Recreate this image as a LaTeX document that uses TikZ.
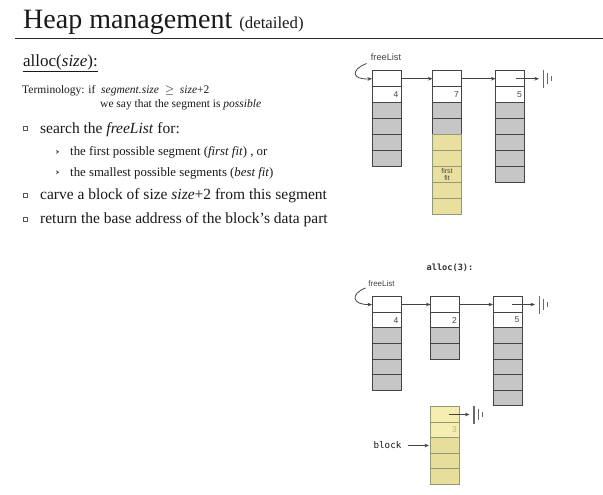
\documentclass[tikz,border=0pt]{standalone}
\usepackage{fontspec}
\setmainfont{Liberation Serif}
\setsansfont{Liberation Sans}
\setmonofont{DejaVu Sans Mono}
\usetikzlibrary{arrows.meta}
\definecolor{cellline}{HTML}{444444}
\definecolor{gcell}{HTML}{C6C6C6}
\definecolor{ycell}{HTML}{E9DF9E}
\definecolor{yline}{HTML}{8F9A76}
\definecolor{ylight}{HTML}{F6EEB0}
\definecolor{ydark}{HTML}{E8DE9C}
\definecolor{txt}{HTML}{1A1A1A}
\definecolor{rulecol}{HTML}{2A2A2A}
\tikzset{
  cell/.style={draw=cellline, line width=1pt, minimum width=29pt, minimum height=16pt, inner sep=0pt, outer sep=0pt},
  cellb/.style={cell, minimum height=15.6pt},
  ycellstyle/.style={cell, draw=yline},
  num/.style={font=\sffamily\fontsize{8.5}{9}\selectfont, text=cellline, inner sep=0pt, anchor=east},
  ptr/.style={draw=cellline, line width=0.8pt, -{Stealth[length=4.5pt,width=3.6pt]}},
  nullbar/.style={draw=cellline!80, line width=0.9pt},
  txtnode/.style={anchor=base west, inner sep=0pt, text=txt},
  mainfont/.style={font=\fontsize{15.5}{18}\selectfont},
  subfont/.style={font=\fontsize{12.8}{15}\selectfont},
  bulletsq/.style={draw=gray!70!black, line width=0.6pt, fill=white, minimum size=4pt, inner sep=0pt},
  chev/.style={fill=txt!80}
}
\begin{document}
\begin{tikzpicture}[x=1pt,y=-1pt]
\useasboundingbox[fill=white] (0,0) rectangle (603,495);

% ---------- left text ----------
\node[txtnode] (title) at (23,29) {\fontsize{28}{30}\selectfont Heap management \fontsize{16.8}{18}\selectfont(detailed)};
\draw[rulecol, line width=1.3pt] (15,38.5) -- (603,38.5);
\node[txtnode] (hdr) at (23,66.5) {\fontsize{17}{20}\selectfont\underline{alloc(\textit{size}):}};
\node[txtnode, font=\fontsize{11.5}{13}\selectfont] (term) at (22,93.3) {Terminology: if \ \textit{segment.size} \ $\geq$ \ \textit{size}+2};
\node[txtnode, font=\fontsize{11.5}{13}\selectfont] (term2) at (100,107.7) {we say that the segment is \textit{possible}};

\node[txtnode, mainfont] (b1) at (40,133) {search the \textit{freeList} for:};
\node[txtnode, subfont] (s1) at (70,155.5) {the first possible segment (\textit{first fit}) , or};
\node[txtnode, subfont] (s2) at (70,176) {the smallest possible segments (\textit{best fit})};
\node[txtnode, mainfont] (b2) at (40,199.3) {carve a block of size \textit{size}+2 from this segment};
\node[txtnode, mainfont] (b3) at (40,223.3) {return the base address of the block's data part};

\foreach \yy/\nm in {128.5/q1,194.8/q2,218.8/q3}
  \node[bulletsq] (\nm) at (25.5,\yy) {};
\foreach \yy in {151.8,172.3}
  \fill[chev] (56,\yy-2) -- (59.2,\yy) -- (56,\yy+2) -- (57,\yy) -- cycle;

% ---------- top diagram ----------
\foreach \i/\f in {1/white,2/white,3/gcell,4/gcell,5/gcell,6/gcell}
  \node[cell, fill=\f] (A\i) at (386.5,{78.7+16*(\i-1)}) {};
\foreach \i/\f in {1/white,2/white,3/gcell,4/gcell}
  \node[cell, fill=\f] (B\i) at (447,{78.7+16*(\i-1)}) {};
\foreach \i in {5,...,9}
  \node[ycellstyle, fill=ycell] (B\i) at (447,{78.7+16*(\i-1)}) {};
\foreach \i/\f in {1/white,2/white,3/gcell,4/gcell,5/gcell,6/gcell,7/gcell}
  \node[cell, fill=\f] (C\i) at (510,{78.7+16*(\i-1)}) {};

\node[num] (nA) at ([xshift=-2.5pt]A2.east) {4};
\node[num] (nB) at ([xshift=-2.5pt]B2.east) {7};
\node[num] (nC) at ([xshift=-2.5pt]C2.east) {5};
\node[font=\sffamily\fontsize{7}{8}\selectfont, text=cellline, align=center, inner sep=0pt] (ff) at (447,174.5) {first\\[-1pt]fit};

\node[font=\sffamily\fontsize{9.2}{10}\selectfont, text=cellline, inner sep=0pt] (fl1) at (386,57) {freeList};
\coordinate (fl1s) at (366.5,63.5);
\draw[ptr] (fl1s) .. controls (350,70) and (352,80) .. (A1.west);
\draw[ptr] (A1.east) -- (B1.west);
\draw[ptr] (B1.east) -- (C1.west);
\coordinate (z1) at (539,78.7);
\draw[ptr] ([xshift=-9pt]C1.east) -- (z1);
\draw[nullbar, line width=1.1pt] (z1) ++(4.5,-9) -- ++(0,18);
\draw[nullbar] (z1) ++(8.5,-5.5) -- ++(0,11);
\draw[nullbar, line width=0.6pt] (z1) ++(12.5,-2.5) -- ++(0,5);

% ---------- bottom diagram ----------
\node[font=\ttfamily\bfseries\fontsize{8.6}{10}\selectfont, text=txt!90, inner sep=0pt] (al) at (450,268) {alloc(3):};

\foreach \i/\f in {1/white,2/white,3/gcell,4/gcell,5/gcell,6/gcell}
  \node[cellb, fill=\f] (D\i) at (386.5,{304.5+15.6*(\i-1)}) {};
\foreach \i/\f in {1/white,2/white,3/gcell,4/gcell}
  \node[cellb, fill=\f] (E\i) at (445,{304.5+15.6*(\i-1)}) {};
\foreach \i/\f in {1/white,2/white,3/gcell,4/gcell,5/gcell,6/gcell,7/gcell}
  \node[cellb, fill=\f] (F\i) at (507.5,{304.5+15.6*(\i-1)}) {};
\foreach \i/\f in {1/ylight,2/ylight,3/ydark,4/ydark,5/ydark}
  \node[cellb, draw=yline, fill=\f] (G\i) at (445,{414.5+15.5*(\i-1)}) {};

\node[num] (nD) at ([xshift=-2.5pt]D2.east) {4};
\node[num] (nE) at ([xshift=-2.5pt]E2.east) {2};
\node[num] (nF) at ([xshift=-2.5pt]F2.east) {5};
\node[num, text=yline!70] (nG) at ([xshift=-2.5pt]G2.east) {3};

\node[font=\sffamily\fontsize{8}{9}\selectfont, text=cellline, inner sep=0pt] (fl2) at (381.5,284) {freeList};
\coordinate (fl2s) at (365.5,288);
\draw[ptr] (fl2s) .. controls (350,294) and (352,305) .. (D1.west);
\draw[ptr] (D1.east) -- (E1.west);
\draw[ptr] (E1.east) -- (F1.west);
\coordinate (z2) at (535,304.5);
\draw[ptr] ([xshift=-10pt]F1.east) -- (z2);
\draw[nullbar, line width=1.1pt] (z2) ++(4.5,-9) -- ++(0,18);
\draw[nullbar] (z2) ++(8.5,-5.5) -- ++(0,11);
\draw[nullbar, line width=0.6pt] (z2) ++(12.5,-2.5) -- ++(0,5);

\coordinate (z3) at (469.5,414.5);
\draw[ptr] ([xshift=-11pt]G1.east) -- (z3);
\draw[nullbar, line width=1.1pt] (z3) ++(4.5,-9) -- ++(0,18);
\draw[nullbar] (z3) ++(8.5,-5.5) -- ++(0,11);
\draw[nullbar, line width=0.6pt] (z3) ++(12.5,-2.5) -- ++(0,5);

\node[font=\ttfamily\fontsize{9.2}{10}\selectfont, text=txt, inner sep=0pt] (blk) at (387.5,445.5) {block};
\draw[ptr] ([xshift=6pt]blk.east) -- ([xshift=-1.5pt]G3.west);
\end{tikzpicture}
\end{document}
